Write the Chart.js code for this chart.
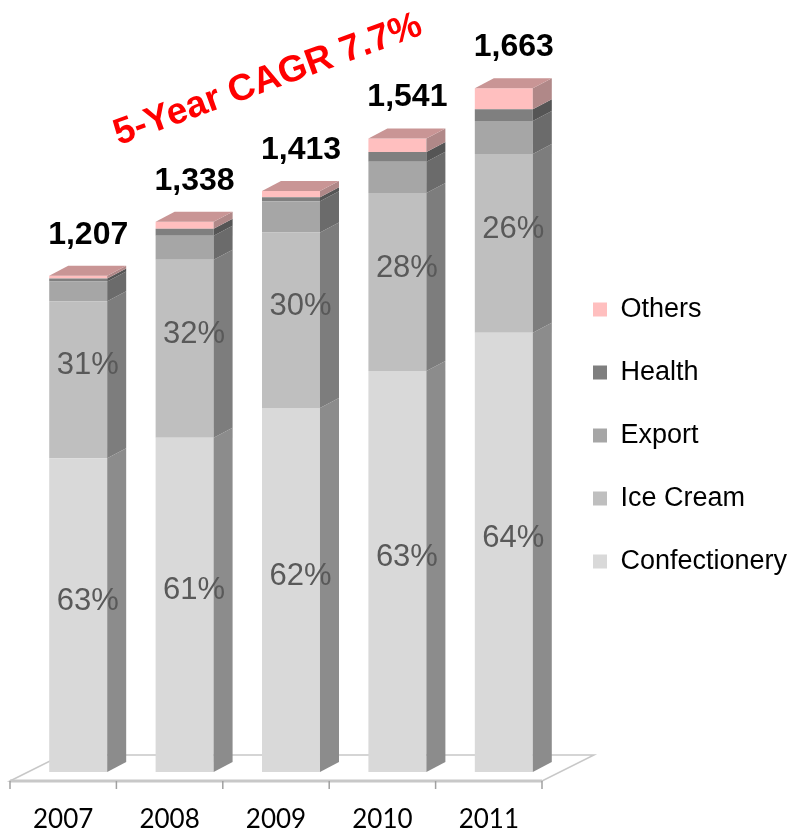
<!DOCTYPE html>
<html>
<head>
<meta charset="utf-8">
<script src="https://cdn.jsdelivr.net/npm/chart.js@4.4.1/dist/chart.umd.min.js"></script>
<style>
  html, body { margin: 0; padding: 0; background: #fff; }
</style>
</head>
<body>
<canvas id="chart" width="788" height="835"></canvas>
<script>
// sales by segment
const years = ["2007", "2008", "2009", "2010", "2011"];
const confectionery = [763, 813, 885, 975, 1068];
const iceCream = [382, 433, 427, 433, 435];
const exportSales = [48, 58, 76, 76, 80];
const health = [7, 17, 10, 24, 29];
const others = [7, 17, 15, 33, 51];
const totals = ["1,207", "1,338", "1,413", "1,541", "1,663"];
const confLabels = ["63%", "61%", "62%", "63%", "64%"];
const iceLabels = ["31%", "32%", "30%", "28%", "26%"];
const cagrText = "5-Year CAGR 7.7%";

const frontColors = ["#d9d9d9", "#bfbfbf", "#a6a6a6", "#7f7f7f", "#ffbfbf"];
const sideColors = ["#8c8c8c", "#7d7d7d", "#6b6b6b", "#555555", "#b08888"];
const topColor = "#c99595";
const DX = 19, DY = -10; // column depth

const bars3d = {
  id: "bars3d",
  beforeDatasetsDraw(chart) {
    const { ctx, chartArea: a, scales: { x, y } } = chart;
    const base = y.getPixelForValue(0);
    const step = x.getPixelForValue(1) - x.getPixelForValue(0);
    const fx0 = a.left - 15, fx1 = fx0 + step * years.length, fy = base + 9;
    const bx0 = fx0 + 52, bx1 = fx1 + 52, by = base - 17;
    ctx.save();
    ctx.fillStyle = "#ffffff";
    ctx.strokeStyle = "#c8c8c8";
    ctx.lineWidth = 1.5;
    ctx.beginPath();
    ctx.moveTo(fx0, fy);
    ctx.lineTo(bx0, by);
    ctx.lineTo(bx1, by);
    ctx.lineTo(fx1, fy);
    ctx.closePath();
    ctx.fill();
    ctx.stroke();
    ctx.lineWidth = 3;
    ctx.beginPath();
    ctx.moveTo(fx0, fy);
    ctx.lineTo(fx1, fy);
    ctx.stroke();
    // tick marks on the floor's front edge
    ctx.strokeStyle = "#a0a0a0";
    ctx.lineWidth = 1.5;
    for (let i = 0; i <= years.length; i++) {
      const tx = fx0 + i * step;
      ctx.beginPath();
      ctx.moveTo(tx, fy);
      ctx.lineTo(tx, fy + 8);
      ctx.stroke();
    }
    ctx.restore();
  },
  afterDatasetsDraw(chart) {
    const { ctx } = chart;
    const n = chart.data.datasets.length;
    ctx.save();
    for (let i = 0; i < n; i++) {
      const meta = chart.getDatasetMeta(i);
      meta.data.forEach((bar) => {
        const { x, y, base, width } = bar.getProps(["x", "y", "base", "width"], true);
        const l = x - width / 2, r = x + width / 2;
        // right side
        ctx.fillStyle = sideColors[i];
        ctx.beginPath();
        ctx.moveTo(r, y);
        ctx.lineTo(r + DX, y + DY);
        ctx.lineTo(r + DX, base + DY);
        ctx.lineTo(r, base);
        ctx.closePath();
        ctx.fill();
        if (i === n - 1) {
          ctx.fillStyle = topColor;
          ctx.beginPath();
          ctx.moveTo(l, y);
          ctx.lineTo(l + DX, y + DY);
          ctx.lineTo(r + DX, y + DY);
          ctx.lineTo(r, y);
          ctx.closePath();
          ctx.fill();
        }
      });
    }

    // percentage labels
    ctx.textAlign = "center";
    ctx.textBaseline = "middle";
    ctx.font = "31px 'Liberation Sans', Arial, sans-serif";
    ctx.fillStyle = "#595959";
    [confLabels, iceLabels].forEach((labels, i) => {
      chart.getDatasetMeta(i).data.forEach((bar, j) => {
        const { x, y, base } = bar.getProps(["x", "y", "base"], true);
        ctx.fillText(labels[j], x + DX / 2, (y + base) / 2 - 14);
      });
    });

    // totals above the columns
    ctx.font = "bold 32px 'Liberation Sans', Arial, sans-serif";
    ctx.fillStyle = "#000000";
    chart.getDatasetMeta(n - 1).data.forEach((bar, j) => {
      const { x, y } = bar.getProps(["x", "y"], true);
      ctx.fillText(totals[j], x + 10, y - 41);
    });

    // CAGR note
    ctx.translate(268, 80);
    ctx.rotate(-20 * Math.PI / 180);
    ctx.font = "bold 37px 'Liberation Sans', Arial, sans-serif";
    ctx.fillStyle = "#ff0000";
    ctx.fillText(cagrText, 0, 0);
    ctx.restore();
  }
};

const series = [
  ["Confectionery", confectionery],
  ["Ice Cream", iceCream],
  ["Export", exportSales],
  ["Health", health],
  ["Others", others]
];

new Chart(document.getElementById("chart"), {
  type: "bar",
  data: {
    labels: years,
    datasets: series.map(([name, values], i) => ({
      label: name,
      data: values,
      backgroundColor: frontColors[i],
      borderWidth: 0,
      categoryPercentage: 1,
      barPercentage: 0.545
    }))
  },
  options: {
    responsive: false,
    animation: false,
    devicePixelRatio: 1,
    layout: { padding: { left: 25, top: 36, right: 0, bottom: 0 } },
    plugins: {
      legend: {
        position: "right",
        reverse: true,
        maxWidth: 231,
        labels: {
          boxWidth: 14,
          boxHeight: 14,
          padding: 36,
          color: "#000000",
          font: { family: "'Liberation Sans', Arial, sans-serif", size: 27 }
        }
      },
      tooltip: { enabled: false }
    },
    scales: {
      x: {
        stacked: true,
        grid: { display: false, drawTicks: false },
        border: { display: false },
        ticks: {
          color: "#000000",
          padding: 32,
          labelOffset: -15,
          font: { family: "Lato, 'Open Sans', sans-serif", size: 26 }
        },
        afterFit: (scale) => { scale.height = 63; }
      },
      y: {
        stacked: true,
        display: false,
        min: 0,
        max: 1790
      }
    }
  },
  plugins: [bars3d]
});
</script>
</body>
</html>
